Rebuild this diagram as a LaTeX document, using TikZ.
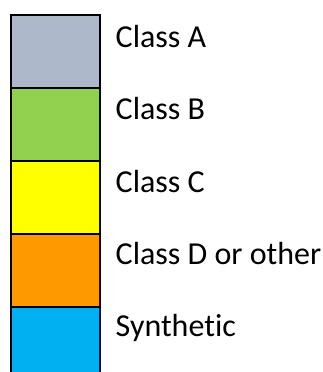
\documentclass[tikz,border=0pt]{standalone}
\usepackage{fontspec}
\setmainfont[Ligatures={NoCommon}]{Carlito}
\definecolor{cA}{HTML}{ADB9CA}
\definecolor{cB}{HTML}{92D050}
\definecolor{cC}{HTML}{FFFF00}
\definecolor{cD}{HTML}{FF9900}
\definecolor{cE}{HTML}{00B0F0}
\begin{document}
\begin{tikzpicture}[x=1pt,y=1pt,
  cell/.style={draw=black, line width=2pt, minimum width=89pt, minimum height=73pt, inner sep=0pt, anchor=north west, outer sep=0pt},
  lbl/.style={anchor=base west, inner sep=0pt, font=\fontsize{32}{38}\selectfont}]
\useasboundingbox (0,0) rectangle (323,372);
\clip (0,0) rectangle (323,372);
\node[cell, fill=cA] (a) at (11,357) {};
\node[cell, fill=cB] (b) at (11,284) {};
\node[cell, fill=cC] (c) at (11,211) {};
\node[cell, fill=cD] (d) at (11,138) {};
\node[cell, fill=cE] (e) at (11,65) {};
\node[lbl] (ta) at (115.5,324) {Class A};
\node[lbl] (tb) at (115.5,252) {Class B};
\node[lbl] (tc) at (115.5,179) {Class C};
\node[lbl] (td) at (115.5,107) {Class D or other};
\node[lbl] (te) at (115.5,35) {Synthetic};
\end{tikzpicture}
\end{document}
